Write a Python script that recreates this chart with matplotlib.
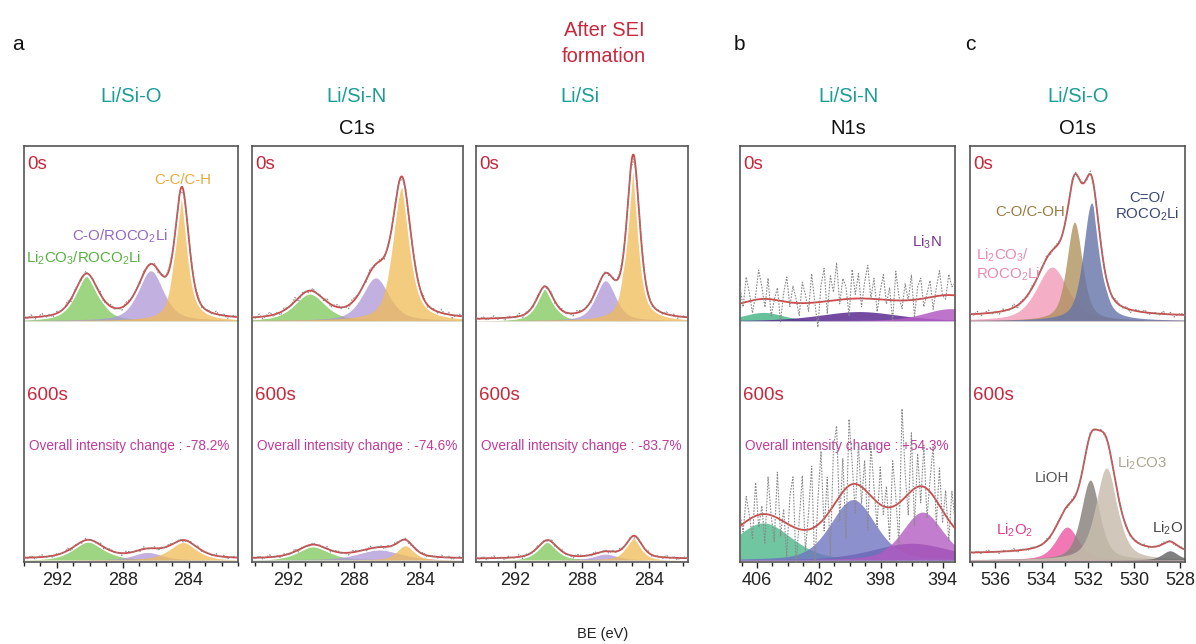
import numpy as np
import matplotlib.pyplot as plt

plt.rcParams['font.family'] = ['Liberation Sans', 'DejaVu Sans']
plt.rcParams['mathtext.default'] = 'regular'

# ---- peak fits: centre (eV), height (% of panel), fwhm (eV)
# C1s, Li/Si-O
c1_top_c = [290.2, 286.3, 284.4]
c1_top_h = [10.6, 12.0, 30.3]
c1_top_w = [1.7, 1.8, 1.0]
c1_bot_c = [290.1, 286.5, 284.3]
c1_bot_h = [4.4, 1.8, 4.2]
c1_bot_w = [2.2, 2.0, 2.0]
# C1s, Li/Si-N
c2_top_c = [290.7, 286.7, 285.1]
c2_top_h = [6.4, 10.3, 32.1]
c2_top_w = [2.2, 1.9, 1.3]
c2_bot_c = [290.5, 286.5, 284.9]
c2_bot_h = [3.2, 2.4, 3.4]
c2_bot_w = [2.2, 3.0, 1.2]
# C1s, Li/Si
c3_top_c = [290.2, 286.6, 284.95]
c3_top_h = [7.6, 9.6, 38.7]
c3_top_w = [1.2, 1.4, 0.9]
c3_bot_c = [290.05, 286.6, 284.9]
c3_bot_h = [4.4, 1.4, 5.3]
c3_bot_w = [1.4, 1.6, 1.1]
# N1s, Li/Si-N
n_top_c = [405.6, 399.4, 393.5]
n_top_h = [2.0, 2.2, 2.9]
n_top_w = [3.0, 6.0, 4.0]
n_bot_c = [405.6, 396.0, 399.8, 395.3]
n_bot_h = [8.9, 4.0, 14.5, 11.5]
n_bot_w = [4.3, 6.0, 3.4, 3.1]
# O1s, Li/Si-O
o_top_c = [533.55, 532.58, 531.84]
o_top_h = [12.9, 23.7, 28.3]
o_top_w = [1.6, 0.8, 0.85]
o_bot_c = [532.9, 531.9, 531.2, 528.45]
o_bot_h = [7.9, 19.2, 22.1, 2.2]
o_bot_w = [1.15, 0.95, 1.1, 0.8]

changes = ['-78.2%', '-74.6%', '-83.7%', '+54.3%']

# residuals of the raw data around the fit (read roughly)
jit = [0.3, -0.2, 0.5, -0.4, 0.1, 0.6, -0.3, 0.2, -0.5, 0.4, 0.0, -0.2, 0.7, -0.6, 0.3,
       0.1, -0.4, 0.5, -0.1, 0.2, -0.3, 0.6, -0.5, 0.2, 0.4, -0.2, 0.1, -0.6, 0.5, 0.3,
       -0.1, 0.2, -0.4, 0.6, -0.2, 0.0, 0.4, -0.5, 0.3, -0.3, 0.5, 0.1, -0.2, 0.4, -0.6,
       0.2, 0.3, -0.1, 0.5, -0.4, 0.1, 0.2, -0.3, 0.6, -0.2, 0.4, -0.5, 0.0, 0.3, -0.2]
n_noise_top = [4, -1, 6, 2, -3, 1, 7, 3, -2, 5, -4, 0, 3, -5, 2, 6, -1, 4, 1, -3, 5, 2, -2, 7,
               0, -6, 4, 8, -3, 6, 2, 9, -1, 5, 3, -4, 7, 1, 6, -2, 4, 8, 0, 5, -3, 2, 6, -1,
               3, -5, 7, 1, -2, 4, 0, 6, -4, 3, 5, -2, 1, 4, -3, 2, 6, 0, -1, 5, 2, 3]
n_noise_bot = [3, -2, 6, 1, -5, 8, -3, 2, -7, 9, 0, -6, 11, -4, 3, -8, 7, 12, -9, 2, 13, -5,
               4, 15, -10, 6, 17, -3, 9, -11, 14, 18, -6, 8, -12, 16, 5, -7, 10, -4, 7, -9,
               12, 3, -6, 9, -2, 5, -8, 11, 2, -10, 22, 6, -5, 14, -9, 8, -4, 10, -7, 3, 12,
               -6, 9, -3, 6, -5, 8, 2]

c1_cols = ['#7cc85a', '#ad96d6', '#f0bb55']
n_top_cols = ['#4cb88a', '#5a2d91', '#b45cc2']
n_bot_cols = ['#4cb88a', '#5a2d91', '#6f74c0', '#b45cc2']
o_top_cols = ['#f29ab8', '#b0915e', '#6473a8']
o_bot_cols = ['#f060a8', '#8c8580', '#c9beae', '#6a6a6a']

RED = '#c8283c'
TEAL = '#1a9e96'
MAG = '#c03c9c'

W, H = 1196, 644
fig = plt.figure(figsize=(W / 100, H / 100), dpi=100)


def pv(x, c, h, w, eta=0.55):
    g = np.exp(-4 * np.log(2) * ((x - c) / w) ** 2)
    l = 1 / (1 + 4 * ((x - c) / w) ** 2)
    return h * (eta * l + (1 - eta) * g)


def spectrum(ax, xlim, base, cs, hs, ws, cols, scale, lift, noise, amp, alpha=0.75, eta=0.55):
    x = np.linspace(xlim[0], xlim[1], 800)
    tot = np.zeros_like(x)
    for c, h, w, col in zip(cs, hs, ws, cols):
        y = pv(x, c, h, w, eta)
        tot += y
        ax.fill_between(x, base, base + y, color=col, alpha=alpha, lw=0, zorder=1)
    env = base + tot * scale + lift
    ax.plot(x, env, color='white', lw=4, zorder=2)
    ax.plot(x, env, color='#d04848', lw=1.3, zorder=3)
    xr = np.linspace(xlim[0], xlim[1], len(noise))
    tr = np.zeros_like(xr)
    for c, h, w in zip(cs, hs, ws):
        tr += pv(xr, c, h, w, eta)
    raw = base + tr * scale + lift + np.array(noise) * amp
    ax.plot(xr, raw, color='#8a8a8a', lw=0.8, ls=(0, (1.5, 1.2)), zorder=4)


def make_ax(left, width, xlim, majors):
    ax = fig.add_axes([left / W, (H - 562) / H, width / W, 416 / H])
    ax.set_xlim(*xlim)
    ax.set_ylim(0, 100)
    ax.set_yticks([])
    ax.set_xticks(majors)
    ax.set_xticks(np.arange(np.ceil(xlim[1]), np.floor(xlim[0]) + 1), minor=True)
    ax.tick_params(axis='x', which='major', length=4, width=1, labelsize=13, colors='#222')
    ax.tick_params(axis='x', which='minor', length=3, width=1, colors='#222')
    for s in ax.spines.values():
        s.set_color('#555')
        s.set_linewidth(1.2)
    ax.text(0.015, 0.975, '0s', transform=ax.transAxes, color=RED, fontsize=13.5, va='top')
    ax.text(0.015, 0.40, '600s', transform=ax.transAxes, color=RED, fontsize=13.5, va='center')
    return ax


TOP, BOT = 58.0, 0.5
c_major = [292, 288, 284]

ax1 = make_ax(24, 214, (294.0, 281.0), c_major)
spectrum(ax1, (294.0, 281.0), TOP, c1_top_c, c1_top_h, c1_top_w, c1_cols, 1.0, 0.3, jit, 1.2)
spectrum(ax1, (294.0, 281.0), BOT, c1_bot_c, c1_bot_h, c1_bot_w, c1_cols, 1.0, 0.3, jit, 0.9)

ax2 = make_ax(252, 211, (294.2, 281.4), c_major)
spectrum(ax2, (294.2, 281.4), TOP, c2_top_c, c2_top_h, c2_top_w, c1_cols, 1.0, 0.3, jit, 1.4)
spectrum(ax2, (294.2, 281.4), BOT, c2_bot_c, c2_bot_h, c2_bot_w, c1_cols, 1.0, 0.3, jit, 0.9)

ax3 = make_ax(476, 212, (294.3, 281.7), c_major)
spectrum(ax3, (294.3, 281.7), TOP, c3_top_c, c3_top_h, c3_top_w, c1_cols, 1.0, 0.3, jit, 1.0)
spectrum(ax3, (294.3, 281.7), BOT, c3_bot_c, c3_bot_h, c3_bot_w, c1_cols, 1.0, 0.3, jit, 0.9)

ax4 = make_ax(740, 215, (407.1, 393.2), [406, 402, 398, 394])
spectrum(ax4, (407.1, 393.2), TOP, n_top_c, n_top_h, n_top_w, n_top_cols, 1.0, 3.0, n_noise_top,
         1.0, 0.85, 0.35)
spectrum(ax4, (407.1, 393.2), BOT, n_bot_c, n_bot_h, n_bot_w, n_bot_cols, 1.0, 1.5, n_noise_bot,
         1.0, 0.8, 0.35)

ax5 = make_ax(970, 215, (537.1, 527.8), [536, 534, 532, 530, 528])
spectrum(ax5, (537.1, 527.8), TOP, o_top_c, o_top_h, o_top_w, o_top_cols, 1.0, 1.0, jit, 1.2, 0.8)
spectrum(ax5, (537.1, 527.8), BOT, o_bot_c, o_bot_h, o_bot_w, o_bot_cols, 1.0, 1.5, jit, 0.8, 0.85)

for ax, ch in zip([ax1, ax2, ax3, ax4], changes):
    ax.text(0.025, 0.28, 'Overall intensity change : ' + ch, transform=ax.transAxes,
            color=MAG, fontsize=9.8, va='center')


def pt(ax, px, py, s, col, **kw):
    inv = ax.transData.inverted()
    xd, yd = inv.transform((px, H - py))
    ax.text(xd, yd, s, color=col, fontsize=kw.pop('fs', 10.8), ha=kw.pop('ha', 'center'),
            va='center', zorder=6, **kw)


fig.canvas.draw()
pt(ax1, 183, 180, 'C-C/C-H', '#e8a93a')
pt(ax1, 120, 236, 'C-O/ROCO$_2$Li', '#9368c0')
pt(ax1, 84, 258, 'Li$_2$CO$_3$/ROCO$_2$Li', '#58b040')
pt(ax4, 927, 242, 'Li$_3$N', '#7a3590')
pt(ax5, 1147, 207, 'C=O/\nROCO$_2$Li', '#3a4676', ha='center', linespacing=1.1)
pt(ax5, 1030, 212, 'C-O/C-OH', '#9a7a3e')
pt(ax5, 976, 265, 'Li$_2$CO$_3$/\nROCO$_2$Li', '#e88aac', ha='left', linespacing=1.1)
pt(ax5, 1052, 478, 'LiOH', '#555555')
pt(ax5, 1142, 463, 'Li$_2$CO3', '#b0a493')
pt(ax5, 1015, 530, 'Li$_2$O$_2$', '#e03c96')
pt(ax5, 1168, 528, 'Li$_2$O', '#444444')


def ft(px, py, s, col, fs=14.5, **kw):
    fig.text(px / W, 1 - py / H, s, color=col, fontsize=fs, ha=kw.pop('ha', 'center'),
             va='center', **kw)


ft(12, 45, 'a', '#111', 15, ha='left')
ft(734, 45, 'b', '#111', 15, ha='left')
ft(965, 45, 'c', '#111', 15, ha='left')
ft(604, 30, 'After SEI', RED)
ft(604, 57, 'formation', RED)
for x, s in [(131, 'Li/Si-O'), (357, 'Li/Si-N'), (580, 'Li/Si'), (848, 'Li/Si-N'), (1078, 'Li/Si-O')]:
    ft(x, 97, s, TEAL)
for x, s in [(357, 'C1s'), (848, 'N1s'), (1078, 'O1s')]:
    ft(x, 128, s, '#111')
ft(603, 634, 'BE (eV)', '#222', 10.5)

fig.savefig('out.png', dpi=100)
